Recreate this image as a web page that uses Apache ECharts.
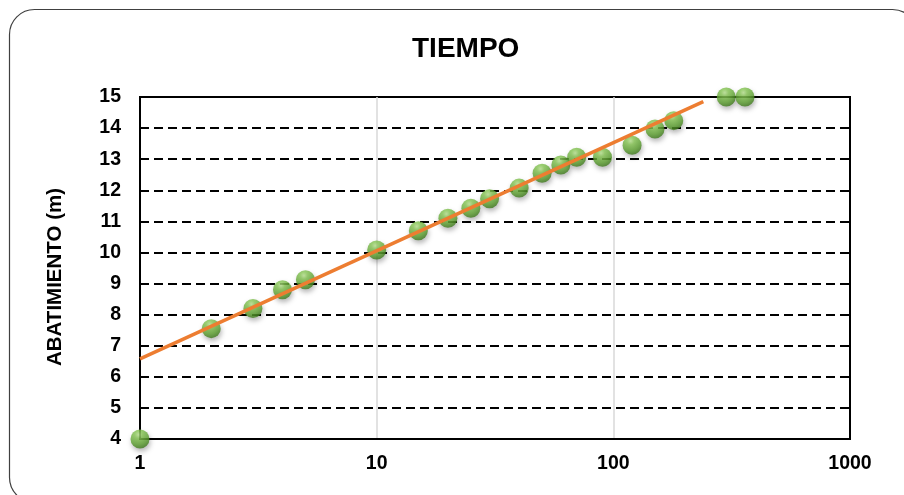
<!DOCTYPE html>
<html>
<head>
<meta charset="utf-8">
<script src="https://cdn.jsdelivr.net/npm/echarts@6/dist/echarts.min.js"></script>
<style>
  html, body { margin: 0; padding: 0; background: #fff; }
  #chart { width: 904px; height: 495px; }
</style>
</head>
<body>
<div id="chart"></div>
<script>
// Drawdown test: elapsed time vs. drawdown
const tiempo = [1, 2, 3, 4, 5, 10, 15, 20, 25, 30, 40, 50, 60, 70, 90, 120, 150, 180, 300, 360];
const abatimiento = [4.0, 7.55, 8.2, 8.8, 9.12, 10.08, 10.7, 11.1, 11.42, 11.73, 12.07, 12.55, 12.81, 13.06, 13.06, 13.45, 13.97, 14.24, 15.0, 15.0];

// Logarithmic trend: s = a + b * log10(t), drawn over [trendStart, trendEnd]
const trendA = 6.58;
const trendB = 3.475;
const trendStart = 1;
const trendEnd = 240;

const xTicks = [1, 10, 100, 1000];
const yMin = 4, yMax = 15;

const FONT = '"Liberation Sans", Arial, sans-serif';

const points = tiempo.map((t, i) => [t, abatimiento[i]]);
const trend = [trendStart, trendEnd].map(t => [t, trendA + trendB * Math.log10(t)]);

const chart = echarts.init(document.getElementById('chart'), null, { renderer: 'canvas' });

chart.setOption({
  animation: false,
  backgroundColor: '#ffffff',
  title: {
    text: 'TIEMPO',
    left: 407,
    top: 30,
    textStyle: { fontFamily: FONT, fontSize: 28, fontWeight: 'bold', color: '#000' }
  },
  grid: {
    left: 140, right: 54, top: 97, bottom: 56,
    show: true, borderColor: '#000', borderWidth: 2, backgroundColor: 'transparent'
  },
  xAxis: {
    type: 'log',
    logBase: 10,
    min: xTicks[0],
    max: xTicks[xTicks.length - 1],
    axisLine: { show: true, lineStyle: { color: '#000', width: 2 } },
    axisTick: { show: false },
    axisLabel: {
      margin: 15,
      formatter: v => String(Math.round(v)),
      fontFamily: FONT, fontSize: 19.5, fontWeight: 'bold', color: '#000'
    },
    splitLine: {
      show: true, showMinLine: false, showMaxLine: false,
      lineStyle: { color: '#d9d9d9', width: 1.5, type: 'solid' }
    }
  },
  yAxis: {
    type: 'value',
    min: yMin,
    max: yMax,
    interval: 1,
    axisLine: { show: true, lineStyle: { color: '#000', width: 2 } },
    axisTick: { show: false },
    axisLabel: {
      margin: 19,
      fontFamily: FONT, fontSize: 19.5, fontWeight: 'bold', color: '#000'
    },
    splitLine: {
      show: true, showMinLine: false, showMaxLine: false,
      lineStyle: { color: '#000', width: 2, type: [9, 5] }
    }
  },
  graphic: [
    {
      type: 'rect',
      shape: { x: 9.5, y: 9.5, width: 908, height: 493, r: 25 },
      style: { fill: 'none', stroke: '#404040', lineWidth: 1.2 },
      silent: true,
      z: 100
    },
    {
      type: 'text',
      x: 55,
      y: 277,
      rotation: Math.PI / 2,
      style: {
        text: 'ABATIMIENTO (m)',
        fontFamily: FONT, fontSize: 20.5, fontWeight: 'bold', fill: '#000',
        align: 'center', verticalAlign: 'middle'
      },
      silent: true
    }
  ],
  series: [
    {
      type: 'scatter',
      data: points,
      clip: false,
      symbol: 'circle',
      symbolSize: 19,
      z: 3,
      itemStyle: {
        color: {
          type: 'radial', x: 0.42, y: 0.28, r: 0.78,
          colorStops: [
            { offset: 0, color: '#b8e28f' },
            { offset: 0.25, color: '#86c653' },
            { offset: 0.65, color: '#5fa332' },
            { offset: 1, color: '#376f17' }
          ]
        },
        shadowBlur: 5,
        shadowColor: 'rgba(0,0,0,0.35)',
        shadowOffsetX: 1,
        shadowOffsetY: 3
      }
    },
    {
      type: 'line',
      data: trend,
      showSymbol: false,
      symbol: 'none',
      clip: false,
      z: 5,
      lineStyle: { color: '#ed7d31', width: 3.5 }
    }
  ]
});
</script>
</body>
</html>
